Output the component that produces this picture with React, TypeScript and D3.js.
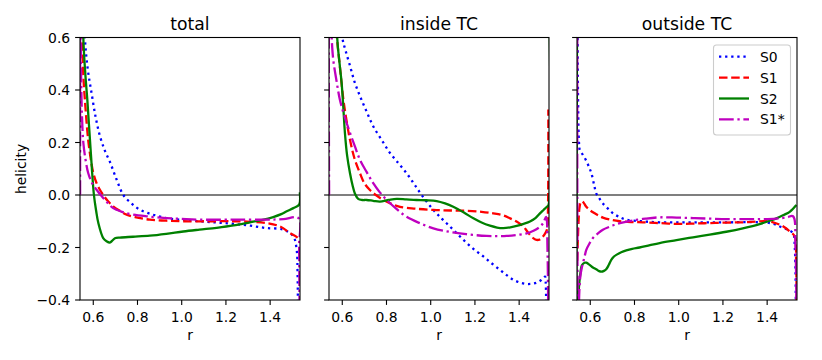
import React from "react";
import * as d3 from "d3";

const panelTitles = ["total", "inside TC", "outside TC"];
const seriesNames = ["S0", "S1", "S2", "S1*"];
const seriesColors = ["#0000ff", "#ff0000", "#008000", "#bf00bf"];
const xTicks = [0.6, 0.8, 1.0, 1.2, 1.4];
const yTicks = [-0.4, -0.2, 0.0, 0.2, 0.4, 0.6];
const xDomain = [0.54, 1.535];
const yDomain = [-0.4, 0.6];

// total
const totalS0 = [[0.548, 1.0], [0.562, 0.6], [0.575, 0.48], [0.592, 0.39], [0.61, 0.3], [0.63, 0.225], [0.652, 0.17], [0.675, 0.127], [0.705, 0.06], [0.736, 0.0], [0.77, -0.03], [0.811, -0.056], [0.87, -0.075], [0.932, -0.088], [1.0, -0.095], [1.083, -0.1], [1.16, -0.105], [1.233, -0.11], [1.31, -0.117], [1.384, -0.126], [1.46, -0.132], [1.505, -0.158], [1.52, -0.209], [1.524, -0.3], [1.526, -0.5]];
const totalS1 = [[0.542, 1.0], [0.549, 0.6], [0.556, 0.44], [0.562, 0.364], [0.577, 0.21], [0.59, 0.13], [0.6, 0.084], [0.615, 0.045], [0.63, 0.02], [0.645, 0.0], [0.665, -0.022], [0.69, -0.043], [0.72, -0.06], [0.751, -0.075], [0.8, -0.086], [0.856, -0.094], [0.93, -0.098], [1.007, -0.1], [1.12, -0.1], [1.233, -0.1], [1.31, -0.102], [1.384, -0.107], [1.445, -0.12], [1.49, -0.145], [1.525, -0.164], [1.533, -0.18]];
const totalS2 = [[0.552, 1.0], [0.555, 0.6], [0.565, 0.45], [0.573, 0.364], [0.588, 0.173], [0.603, 0.0], [0.613, -0.06], [0.623, -0.107], [0.645, -0.164], [0.66, -0.176], [0.675, -0.181], [0.686, -0.174], [0.698, -0.165], [0.721, -0.162], [0.78, -0.159], [0.856, -0.155], [0.93, -0.148], [1.007, -0.139], [1.08, -0.132], [1.158, -0.125], [1.235, -0.116], [1.309, -0.104], [1.365, -0.095], [1.414, -0.084], [1.45, -0.073], [1.475, -0.062], [1.505, -0.05], [1.531, -0.037], [1.534, 0.01]];
const totalS1s = [[0.5405, 0.0], [0.5415, 0.8], [0.545, 0.45], [0.549, 0.3], [0.555, 0.2], [0.565, 0.135], [0.577, 0.084], [0.595, 0.045], [0.615, 0.02], [0.645, -0.011], [0.665, -0.03], [0.69, -0.05], [0.73, -0.064], [0.781, -0.075], [0.85, -0.082], [0.932, -0.088], [1.0, -0.091], [1.083, -0.094], [1.233, -0.094], [1.384, -0.094], [1.46, -0.092], [1.528, -0.088], [1.531, -0.2], [1.533, -0.5]];

// inside TC
const insideS0 = [[0.58, 0.8], [0.6, 0.6], [0.615, 0.55], [0.635, 0.492], [0.656, 0.43], [0.68, 0.377], [0.71, 0.318], [0.74, 0.262], [0.778, 0.21], [0.816, 0.16], [0.855, 0.12], [0.891, 0.083], [0.925, 0.042], [0.959, 0.0], [1.012, -0.057], [1.05, -0.09], [1.087, -0.12], [1.125, -0.152], [1.163, -0.183], [1.2, -0.21], [1.238, -0.234], [1.275, -0.26], [1.313, -0.285], [1.345, -0.306], [1.374, -0.323], [1.405, -0.334], [1.434, -0.339], [1.46, -0.338], [1.479, -0.334], [1.5, -0.324], [1.517, -0.311], [1.52, -0.33], [1.523, -0.5]];
const insideS1 = [[0.555, 1.0], [0.566, 0.7], [0.578, 0.58], [0.589, 0.49], [0.605, 0.364], [0.62, 0.28], [0.635, 0.21], [0.655, 0.14], [0.68, 0.083], [0.7, 0.045], [0.725, 0.019], [0.755, -0.002], [0.786, -0.019], [0.82, -0.033], [0.861, -0.045], [0.93, -0.052], [1.012, -0.057], [1.09, -0.059], [1.163, -0.06], [1.23, -0.064], [1.283, -0.07], [1.325, -0.077], [1.359, -0.089], [1.39, -0.102], [1.419, -0.12], [1.435, -0.137], [1.449, -0.152], [1.465, -0.165], [1.479, -0.171], [1.492, -0.17], [1.502, -0.164], [1.515, -0.15], [1.525, -0.134], [1.529, -0.1], [1.532, 0.326]];
const insideS2 = [[0.57, 1.0], [0.577, 0.6], [0.588, 0.5], [0.597, 0.428], [0.605, 0.33], [0.612, 0.237], [0.622, 0.15], [0.635, 0.083], [0.647, 0.035], [0.657, 0.006], [0.672, -0.015], [0.69, -0.019], [0.71, -0.019], [0.74, -0.022], [0.77, -0.025], [0.81, -0.019], [0.846, -0.015], [0.89, -0.017], [0.936, -0.019], [0.98, -0.02], [1.027, -0.023], [1.065, -0.032], [1.102, -0.045], [1.15, -0.067], [1.193, -0.089], [1.23, -0.105], [1.268, -0.117], [1.3, -0.124], [1.328, -0.126], [1.36, -0.123], [1.389, -0.118], [1.42, -0.11], [1.449, -0.101], [1.475, -0.087], [1.494, -0.07], [1.51, -0.057], [1.525, -0.045], [1.532, -0.04], [1.534, 0.8]];
const insideS1s = [[0.5405, 0.0], [0.5415, 0.8], [0.552, 0.6], [0.559, 0.517], [0.573, 0.44], [0.589, 0.364], [0.61, 0.3], [0.635, 0.237], [0.658, 0.183], [0.68, 0.134], [0.71, 0.088], [0.74, 0.045], [0.77, 0.01], [0.801, -0.019], [0.845, -0.053], [0.891, -0.083], [0.95, -0.107], [1.012, -0.127], [1.07, -0.138], [1.132, -0.146], [1.19, -0.152], [1.253, -0.156], [1.3, -0.157], [1.344, -0.156], [1.39, -0.152], [1.434, -0.146], [1.465, -0.136], [1.494, -0.121], [1.51, -0.105], [1.522, -0.083], [1.528, -0.2], [1.532, -0.5]];

// outside TC
const outsideS0 = [[0.541, 0.9], [0.545, 0.35], [0.549, 0.2], [0.553, 0.17], [0.565, 0.155], [0.582, 0.13], [0.595, 0.105], [0.605, 0.083], [0.617, 0.04], [0.627, 0.006], [0.64, -0.012], [0.657, -0.032], [0.68, -0.052], [0.703, -0.07], [0.73, -0.083], [0.763, -0.094], [0.83, -0.1], [0.914, -0.104], [1.065, -0.104], [1.215, -0.104], [1.366, -0.104], [1.42, -0.108], [1.457, -0.12], [1.49, -0.131], [1.517, -0.146], [1.525, -0.2], [1.53, -0.5]];
const outsideS1 = [[0.541, -0.25], [0.546, -0.12], [0.551, -0.05], [0.557, -0.028], [0.564, -0.024], [0.572, -0.032], [0.582, -0.045], [0.597, -0.057], [0.612, -0.066], [0.635, -0.077], [0.657, -0.086], [0.69, -0.094], [0.733, -0.1], [0.79, -0.103], [0.838, -0.104], [0.91, -0.107], [0.989, -0.11], [1.065, -0.109], [1.14, -0.107], [1.215, -0.105], [1.291, -0.104], [1.35, -0.101], [1.396, -0.1], [1.43, -0.105], [1.457, -0.113], [1.48, -0.124], [1.502, -0.139], [1.525, -0.158], [1.531, -0.25], [1.534, -0.5]];
const outsideS2 = [[0.5405, 0.8], [0.5425, -0.45], [0.548, -0.36], [0.555, -0.3], [0.562, -0.268], [0.574, -0.258], [0.582, -0.258], [0.597, -0.266], [0.612, -0.276], [0.627, -0.283], [0.64, -0.29], [0.65, -0.292], [0.662, -0.289], [0.672, -0.283], [0.684, -0.266], [0.695, -0.247], [0.705, -0.236], [0.718, -0.228], [0.74, -0.218], [0.763, -0.211], [0.79, -0.205], [0.823, -0.2], [0.87, -0.191], [0.914, -0.183], [0.99, -0.172], [1.065, -0.161], [1.14, -0.151], [1.215, -0.14], [1.29, -0.127], [1.366, -0.111], [1.405, -0.1], [1.442, -0.089], [1.475, -0.076], [1.502, -0.064], [1.532, -0.038]];
const outsideS1s = [[0.541, 0.9], [0.545, -0.5], [0.551, -0.36], [0.555, -0.311], [0.561, -0.28], [0.567, -0.26], [0.575, -0.232], [0.582, -0.209], [0.597, -0.184], [0.612, -0.164], [0.635, -0.146], [0.657, -0.132], [0.69, -0.12], [0.718, -0.111], [0.755, -0.103], [0.793, -0.097], [0.85, -0.09], [0.914, -0.085], [0.99, -0.086], [1.065, -0.088], [1.14, -0.09], [1.215, -0.092], [1.29, -0.092], [1.366, -0.092], [1.44, -0.09], [1.49, -0.085], [1.517, -0.081], [1.528, -0.2], [1.533, -0.5]];

const panelData = [
  [totalS0, totalS1, totalS2, totalS1s],
  [insideS0, insideS1, insideS2, insideS1s],
  [outsideS0, outsideS1, outsideS2, outsideS1s],
];

const LW = 2.3;
const dashes = [
  `${LW},${LW * 1.65}`,
  `${LW * 3.7},${LW * 1.6}`,
  "",
  `${LW * 6.4},${LW * 1.6},${LW},${LW * 1.6}`,
];
const panelLefts = [80, 329, 577];
const panelW = 220;
const top = 37.5;
const bottom = 300;
const FONT = "DejaVu Sans, sans-serif";

function fmt(v: number) {
  const s = v.toFixed(1);
  return v < 0 ? "\u2212" + s.slice(1) : s;
}

export default function App() {
  const y = d3.scaleLinear().domain(yDomain).range([bottom, top]);
  return (
    <svg width={822} height={360} style={{ position: "absolute", left: 0, top: 0 }} fontFamily={FONT}>
      <rect x={0} y={0} width={822} height={360} fill="#fff" />
      <defs>
        {panelLefts.map((l, i) => (
          <clipPath id={`clip${i}`} key={i}>
            <rect x={l} y={top} width={panelW} height={bottom - top} />
          </clipPath>
        ))}
      </defs>
      {panelLefts.map((left, pi) => {
        const x = d3.scaleLinear().domain(xDomain).range([left, left + panelW]);
        const line = d3
          .line<number[]>()
          .x((d) => x(d[0]))
          .y((d) => y(d[1]))
          .curve(d3.curveCatmullRom.alpha(0.5));
        return (
          <g key={pi}>
            <g clipPath={`url(#clip${pi})`}>
              <line x1={left} x2={left + panelW} y1={y(0)} y2={y(0)} stroke="#000" strokeWidth={1.2} />
              {panelData[pi].map((s, si) => (
                <path
                  key={si}
                  d={line(s as number[][]) || ""}
                  fill="none"
                  stroke={seriesColors[si]}
                  strokeWidth={LW}
                  strokeDasharray={dashes[si] || undefined}
                  strokeLinecap="butt"
                />
              ))}
            </g>
            <rect x={left} y={top} width={panelW} height={bottom - top} fill="none" stroke="#000" strokeWidth={1.1} />
            {xTicks.map((t) => (
              <g key={t}>
                <line x1={x(t)} x2={x(t)} y1={bottom} y2={bottom + 4.9} stroke="#000" strokeWidth={1.1} />
                <text x={x(t)} y={321.5} textAnchor="middle" fontSize={13.9}>
                  {fmt(t)}
                </text>
              </g>
            ))}
            {yTicks.map((t) => (
              <g key={t}>
                <line x1={left - 4.9} x2={left} y1={y(t)} y2={y(t)} stroke="#000" strokeWidth={1.1} />
                {pi === 0 && (
                  <text x={left - 9.8} y={y(t) + 5.2} textAnchor="end" fontSize={13.9}>
                    {fmt(t)}
                  </text>
                )}
              </g>
            ))}
            <text x={left + panelW / 2} y={340} textAnchor="middle" fontSize={13.9}>
              r
            </text>
            <text x={left + panelW / 2} y={29.5} textAnchor="middle" fontSize={17.2}>
              {panelTitles[pi]}
            </text>
          </g>
        );
      })}
      <text transform={`translate(26,169) rotate(-90)`} textAnchor="middle" fontSize={13.9}>
        helicity
      </text>
      <g>
        <rect x={713.5} y={45} width={77} height={90} rx={3} ry={3} fill="#fff" fillOpacity={0.8} stroke="#cccccc" strokeWidth={1.1} />
        {seriesNames.map((n, i) => {
          const ly = 56.7 + i * 20.9;
          return (
            <g key={n}>
              <line x1={719} x2={749} y1={ly} y2={ly} stroke={seriesColors[i]} strokeWidth={LW} strokeDasharray={dashes[i] || undefined} />
              <text x={760} y={ly + 5} fontSize={13.9}>
                {n}
              </text>
            </g>
          );
        })}
      </g>
    </svg>
  );
}
